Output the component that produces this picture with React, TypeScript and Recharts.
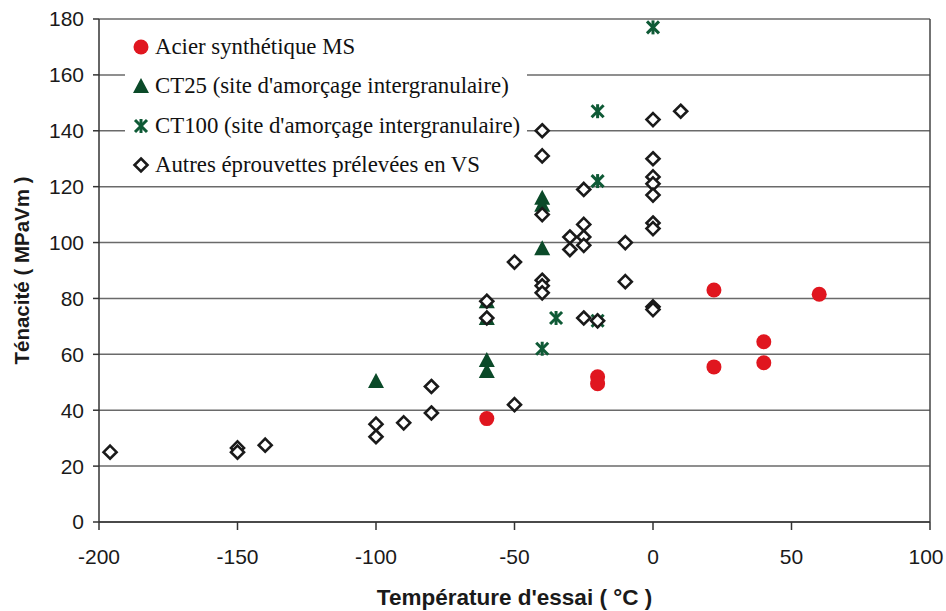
import React from 'react';
import {
  ScatterChart, Scatter, XAxis, YAxis, CartesianGrid, Legend, ReferenceLine,
} from 'recharts';

// Tick values
const xTicks = [-200, -150, -100, -50, 0, 50, 100];
const yTicks = [0, 20, 40, 60, 80, 100, 120, 140, 160, 180];

// Series names
const seriesNames = [
  'Acier synthétique MS',
  "CT25 (site d'amorçage intergranulaire)",
  "CT100 (site d'amorçage intergranulaire)",
  'Autres éprouvettes prélevées en VS',
];

// [température, ténacité]
const acierMS = [
  [-60, 37], [-20, 52], [-20, 49.5], [22, 83], [22, 55.5], [40, 64.5], [40, 57], [60, 81.5],
];

const ct25 = [
  [-100, 50.5], [-60, 79], [-60, 73], [-60, 58], [-60, 54], [-40, 116], [-40, 113.5], [-40, 98],
];

const ct100 = [
  [0, 177], [-20, 147], [-20, 122], [-35, 73], [-20, 72], [-40, 62],
];

const autres = [
  [-196, 25], [-150, 26.5], [-150, 25], [-140, 27.5], [-100, 35], [-100, 30.5], [-90, 35.5],
  [-80, 48.5], [-80, 39], [-60, 79], [-60, 73], [-50, 42], [-50, 93],
  [-40, 140], [-40, 131], [-40, 110], [-40, 86.5], [-40, 84.5], [-40, 82],
  [-30, 102], [-30, 97.5], [-25, 119], [-25, 106.5], [-25, 102], [-25, 99], [-25, 73], [-20, 72],
  [-10, 100], [-10, 86], [0, 144], [0, 130], [0, 123.5], [0, 121], [0, 117], [0, 107], [0, 105],
  [0, 77], [0, 76], [10, 147],
];

const toPoints = (arr: number[][]) => arr.map(([x, y]) => ({ x, y }));

const RED = '#e0161f';
const TRI_GREEN = '#0b4a29';
const AST_GREEN = '#0f5a36';
const SANS = "'Liberation Sans', Arial, sans-serif";

function Marker({ kind, cx, cy }: { kind: number; cx: number; cy: number }) {
  if (kind === 0) return <circle cx={cx} cy={cy} r={7.5} fill={RED} />;
  if (kind === 1)
    return <polygon points={`${cx},${cy - 8} ${cx + 8},${cy + 7} ${cx - 8},${cy + 7}`} fill={TRI_GREEN} />;
  if (kind === 2)
    return (
      <g stroke={AST_GREEN} strokeWidth={3}>
        <line x1={cx - 6} y1={cy - 6} x2={cx + 6} y2={cy + 6} />
        <line x1={cx + 6} y1={cy - 6} x2={cx - 6} y2={cy + 6} />
        <line x1={cx} y1={cy - 7} x2={cx} y2={cy + 7} />
      </g>
    );
  return (
    <polygon
      points={`${cx},${cy - 6.5} ${cx + 6.5},${cy} ${cx},${cy + 6.5} ${cx - 6.5},${cy}`}
      fill="#fff"
      stroke="#1a1a1a"
      strokeWidth={2.6}
    />
  );
}

const shapeFor = (kind: number) => (props: any) => <Marker kind={kind} cx={props.cx} cy={props.cy} />;

function LegendBox(props: any) {
  const payload = [...(props.payload || [])].sort(
    (a: any, b: any) => seriesNames.indexOf(a.value) - seriesNames.indexOf(b.value)
  );
  return (
    <div style={{ background: '#fff', width: 402, height: 157, paddingTop: 2, boxSizing: 'border-box' }}>
      {payload.map((entry: any) => {
        const kind = seriesNames.indexOf(entry.value);
        return (
          <div key={entry.value} style={{ display: 'flex', alignItems: 'center', height: 39.5 }}>
            <svg width={30} height={20} style={{ flex: 'none' }}>
              <Marker kind={kind} cx={16} cy={10} />
            </svg>
            <span style={{ fontFamily: "'Liberation Serif', 'Times New Roman', serif", fontSize: 22.8, color: '#111', whiteSpace: 'nowrap' }}>
              {entry.value}
            </span>
          </div>
        );
      })}
    </div>
  );
}

// x tick: keep the last label inside the page like the reference
function XTick(props: any) {
  const { x, y, payload } = props;
  const shift = payload.value === 100 ? -4 : 0;
  return (
    <text x={x + shift} y={y} dy={17} textAnchor="middle" fontFamily={SANS} fontSize={21} fill="#1a1a1a">
      {payload.value}
    </text>
  );
}

const tickStyle = { fontFamily: SANS, fontSize: 21, fill: '#1a1a1a' };

export default function App() {
  return (
    <div style={{ position: 'absolute', left: 0, top: 0, width: 946, height: 611, background: '#fff' }}>
      <ScatterChart width={946} height={611} margin={{ top: 19, right: 16, bottom: 0, left: 0 }}>
        <CartesianGrid horizontal vertical={false} stroke="#6a6a6a" strokeWidth={1.5} />
        <XAxis
          type="number"
          dataKey="x"
          domain={[-200, 100]}
          ticks={xTicks}
          height={89}
          stroke="#333"
          strokeWidth={1.5}
          tickSize={8}
          tickMargin={17}
          tick={<XTick />}
          label={{
            value: "Température d'essai ( °C )",
            position: 'insideBottom',
            offset: 6,
            style: { fontFamily: SANS, fontSize: 22.5, fontWeight: 'bold', fill: '#1a1a1a' },
          }}
        />
        <YAxis
          type="number"
          dataKey="y"
          domain={[0, 180]}
          ticks={yTicks}
          width={99}
          stroke="#333"
          strokeWidth={1.5}
          tickSize={6}
          tickMargin={9}
          tick={tickStyle}
          label={{
            value: 'Ténacité ( MPaVm )',
            angle: -90,
            position: 'insideLeft',
            offset: 22,
            textAnchor: 'middle',
            style: { fontFamily: SANS, fontSize: 20.5, fontWeight: 'bold', fill: '#1a1a1a', textAnchor: 'middle' },
          }}
        />
        <ReferenceLine x={100} stroke="#444" strokeWidth={1.5} />
        <Legend
          layout="vertical"
          align="center"
          verticalAlign="middle"
          wrapperStyle={{ left: 125, top: 25, width: 402, height: 157 }}
          content={LegendBox}
        />
        <Scatter name={seriesNames[0]} data={toPoints(acierMS)} fill={RED} shape={shapeFor(0)} isAnimationActive={false} />
        <Scatter name={seriesNames[1]} data={toPoints(ct25)} fill={TRI_GREEN} shape={shapeFor(1)} isAnimationActive={false} />
        <Scatter name={seriesNames[2]} data={toPoints(ct100)} fill={AST_GREEN} shape={shapeFor(2)} isAnimationActive={false} />
        <Scatter name={seriesNames[3]} data={toPoints(autres)} fill="#1a1a1a" shape={shapeFor(3)} isAnimationActive={false} />
      </ScatterChart>
    </div>
  );
}
